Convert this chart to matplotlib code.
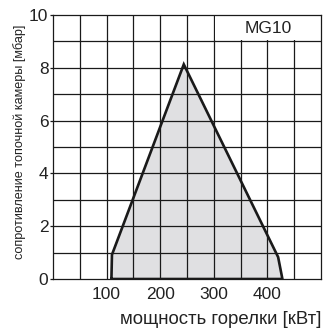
"""
Рабочее поле горелки MG10: сопротивление топочной камеры vs мощность.
"""
import matplotlib.pyplot as plt
from matplotlib.patches import Rectangle

plt.rcParams["font.family"] = ["Liberation Sans", "DejaVu Sans"]

# контур рабочего поля (кВт, мбар)
power_kw = [109, 110, 244, 420, 428, 109]
resistance_mbar = [0, 0.92, 8.13, 0.83, 0, 0]

x_ticks = [100, 200, 300, 400]
y_ticks = [0, 2, 4, 6, 8, 10]
model_label = "MG10"

fig = plt.figure(figsize=(3.23, 3.29), dpi=100)
ax = fig.add_axes([53 / 323, 1 - 279 / 329, 268 / 323, 264 / 329])

ax.set_xlim(0, 500)
ax.set_ylim(0, 10)

# сетка: каждые 50 кВт и 1 мбар
grid_kw = dict(color="#1a1a1a", lw=0.9, zorder=1)
for gx in range(50, 500, 50):
    ax.plot([gx, gx], [0, 10], **grid_kw)
for gy in range(1, 10):
    ax.plot([0, 500], [gy, gy], **grid_kw)

ax.fill(power_kw, resistance_mbar, color="#e0e0e2", zorder=0.5)
ax.plot(power_kw, resistance_mbar, color="#1a1a1a", lw=1.9,
        solid_joinstyle="miter", zorder=3)

# подпись модели в белой ячейке
ax.add_patch(Rectangle((302, 9.05), 197, 0.9, facecolor="white",
                       edgecolor="none", zorder=2))
ax.text(402, 9.5, model_label, ha="center", va="center", fontsize=12.5,
        color="#222222", zorder=4)

ax.set_xticks(x_ticks)
ax.set_yticks(y_ticks)
ax.tick_params(axis="x", length=0, pad=6)
ax.tick_params(axis="y", length=2.5, width=0.9, color="#1a1a1a", pad=0.8)
ax.tick_params(labelsize=12.5, labelcolor="#222222")
for s in ax.spines.values():
    s.set_color("#1a1a1a")
    s.set_linewidth(0.9)

ax.set_xlabel("мощность горелки [кВт]", fontsize=13.4, color="#222222",
              loc="right", labelpad=6)
ax.set_ylabel("сопротивление топочной камеры [мбар]", fontsize=9.1,
              color="#222222")
ax.yaxis.set_label_coords(-0.10, 0.52)

fig.savefig("out.png", dpi=100)
